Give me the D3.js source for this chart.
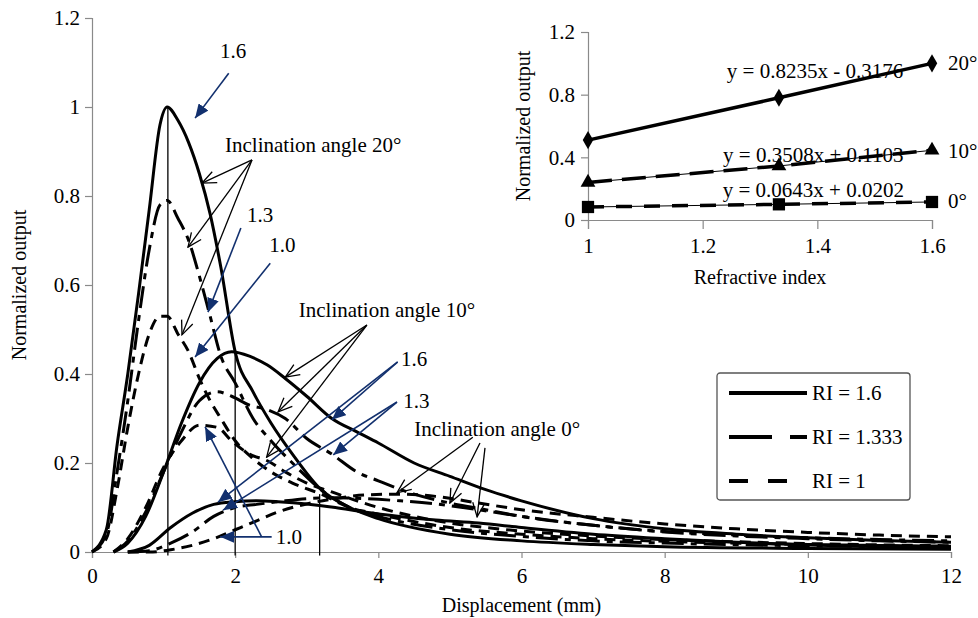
<!DOCTYPE html>
<html>
<head>
<meta charset="utf-8">
<script src="https://cdn.jsdelivr.net/npm/d3@7"></script>
<style>
  body { margin: 0; background: #fff; }
  text { font-family: "Liberation Serif", "Times New Roman", serif; fill: #000; }
</style>
</head>
<body>
<div id="chart"></div>
<script>
// ---------------------------------------------------------
// DATA
// ---------------------------------------------------------

// displacement (mm) sample points for each inclination angle
var x20 = [0, 0.2, 0.35, 0.5, 0.65, 0.8, 0.95, 1.05, 1.2, 1.35, 1.5, 1.65, 1.8, 2.0, 2.25, 2.5, 2.8, 3.2, 3.6, 4, 5, 6, 7, 8, 10, 12];
var x10 = [0.3, 0.5, 0.75, 1.0, 1.25, 1.5, 1.75, 1.95, 2.2, 2.45, 2.7, 3.0, 3.35, 3.7, 4.0, 4.5, 5.0, 5.5, 6.0, 7.0, 8.0, 9.0, 10, 11, 12];
var x0 = [0.5, 0.8, 1.1, 1.4, 1.7, 2.0, 2.3, 2.6, 3.0, 3.4, 3.8, 4.3, 4.8, 5.4, 6, 7, 8, 9, 10, 11, 12];

// inclination angle 20 deg
var a20ri16 = [0, 0.05, 0.24, 0.4, 0.58, 0.77, 0.96, 1.0, 0.97, 0.92, 0.85, 0.76, 0.64, 0.45, 0.36, 0.29, 0.22, 0.14, 0.1, 0.075, 0.04, 0.025, 0.017, 0.012, 0.008, 0.006];
var a20ri1333 = [0, 0.04, 0.18, 0.34, 0.52, 0.68, 0.78, 0.79, 0.75, 0.7, 0.62, 0.53, 0.44, 0.38, 0.3, 0.25, 0.2, 0.14, 0.1, 0.08, 0.05, 0.035, 0.025, 0.02, 0.014, 0.011];
var a20ri1 = [0, 0.03, 0.14, 0.28, 0.4, 0.49, 0.53, 0.53, 0.49, 0.45, 0.39, 0.34, 0.3, 0.25, 0.21, 0.18, 0.155, 0.13, 0.1, 0.085, 0.055, 0.04, 0.03, 0.024, 0.017, 0.013];

// inclination angle 10 deg
var a10ri16 = [0, 0.02, 0.08, 0.18, 0.29, 0.38, 0.435, 0.45, 0.44, 0.42, 0.39, 0.35, 0.3, 0.27, 0.245, 0.2, 0.17, 0.14, 0.115, 0.075, 0.052, 0.04, 0.032, 0.026, 0.022];
var a10ri1333 = [0, 0.025, 0.09, 0.18, 0.27, 0.34, 0.36, 0.35, 0.33, 0.32, 0.3, 0.255, 0.22, 0.18, 0.16, 0.13, 0.11, 0.095, 0.08, 0.06, 0.045, 0.036, 0.03, 0.025, 0.022];
var a10ri1 = [0, 0.03, 0.1, 0.19, 0.25, 0.285, 0.28, 0.25, 0.22, 0.205, 0.18, 0.155, 0.135, 0.115, 0.1, 0.08, 0.065, 0.055, 0.047, 0.036, 0.028, 0.023, 0.019, 0.016, 0.014];

// inclination angle 0 deg
var a0ri16 = [0, 0.015, 0.055, 0.087, 0.107, 0.113, 0.115, 0.113, 0.108, 0.1, 0.09, 0.08, 0.072, 0.065, 0.055, 0.04, 0.03, 0.022, 0.016, 0.012, 0.01];
var a0ri1333 = [0, 0.003, 0.02, 0.045, 0.08, 0.1, 0.107, 0.113, 0.12, 0.122, 0.12, 0.115, 0.108, 0.095, 0.08, 0.06, 0.046, 0.038, 0.032, 0.028, 0.025];
var a0ri1 = [0, 0, 0.005, 0.015, 0.03, 0.05, 0.07, 0.09, 0.108, 0.12, 0.128, 0.13, 0.125, 0.11, 0.095, 0.078, 0.063, 0.052, 0.044, 0.038, 0.034];

// peak markers (vertical lines): [x, top]
var peakLines = [[1.06, 1.0], [2.0, 0.45], [3.18, 0.13]];

// inset: normalized peak output vs refractive index
var insetRI = [1, 1.333, 1.6];
var inset20 = [0.51, 0.78, 1.0];
var inset10 = [0.24, 0.345, 0.445];
var inset0 = [0.083, 0.1, 0.115];
var insetEquations = ["y = 0.8235x - 0.3176", "y = 0.3508x + 0.1103", "y = 0.0643x + 0.0202"];

// ticks
var xTicks = [0, 2, 4, 6, 8, 10, 12];
var yTicks = [0, 0.2, 0.4, 0.6, 0.8, 1, 1.2];
var yTickLabels = ["0", "0.2", "0.4", "0.6", "0.8", "1", "1.2"];
var insetXTicks = [1, 1.2, 1.4, 1.6];
var insetXLabels = ["1", "1.2", "1.4", "1.6"];
var insetYTicks = [0, 0.4, 0.8, 1.2];
var insetYLabels = ["0", "0.4", "0.8", "1.2"];

var legendLabels = ["RI = 1.6", "RI = 1.333", "RI = 1"];

// ---------------------------------------------------------
// SET UP
// ---------------------------------------------------------
var svgWidth = 978;
var svgHeight = 618;
var axisColor = "#8a8a8a";
var blue = "#12306e";
var fontSize = 21;

var svg = d3.select("#chart")
  .append("svg")
  .attr("width", svgWidth)
  .attr("height", svgHeight);

var defs = svg.append("defs");
defs.append("marker")
  .attr("id", "blueHead")
  .attr("viewBox", "0 -6 14 12")
  .attr("refX", 14).attr("refY", 0)
  .attr("markerWidth", 14).attr("markerHeight", 12)
  .attr("markerUnits", "userSpaceOnUse")
  .attr("orient", "auto")
  .append("path")
  .attr("d", "M0,-6L14,0L0,6Z")
  .attr("fill", blue);
defs.append("marker")
  .attr("id", "blackHead")
  .attr("viewBox", "-1 -7 16 14")
  .attr("refX", 14).attr("refY", 0)
  .attr("markerWidth", 16).attr("markerHeight", 14)
  .attr("markerUnits", "userSpaceOnUse")
  .attr("orient", "auto")
  .append("path")
  .attr("d", "M0,-6L14,0L0,6")
  .attr("fill", "none")
  .attr("stroke", "#000")
  .attr("stroke-width", 1.3);

// main scales
var x = d3.scaleLinear().domain([0, 12]).range([92, 951]);
var y = d3.scaleLinear().domain([0, 1.2]).range([552, 18]);

// line styles for refractive index
var styles = {
  ri16: { dash: null, width: 3 },
  ri1333: { dash: "22,7,6,7", width: 3 },
  ri1: { dash: "11,7", width: 3 }
};

// ---------------------------------------------------------
// AXES
// ---------------------------------------------------------
var yAxis = svg.append("g")
  .attr("transform", `translate(${x(0)},0)`)
  .call(d3.axisLeft(y).tickValues(yTicks).tickSize(7).tickPadding(5)
    .tickFormat((d, i) => yTickLabels[i]));

var xAxis = svg.append("g")
  .attr("transform", `translate(0,${y(0)})`)
  .call(d3.axisBottom(x).tickValues(xTicks).tickSize(6).tickPadding(10)
    .tickFormat(d3.format("d")));

[xAxis, yAxis].forEach(function(g) {
  g.select(".domain").attr("stroke", axisColor).attr("stroke-width", 1.2);
  g.selectAll(".tick line").attr("stroke", axisColor).attr("stroke-width", 1.2);
  g.selectAll(".tick text")
    .style("font-family", "Liberation Serif, Times New Roman, serif")
    .style("font-size", fontSize + "px")
    .attr("fill", "#000");
});

svg.append("text")
  .attr("x", (x(0) + x(12)) / 2)
  .attr("y", 612)
  .attr("text-anchor", "middle")
  .style("font-size", "20px")
  .text("Displacement (mm)");

svg.append("text")
  .attr("transform", `translate(26,${y(0.6)}) rotate(-90)`)
  .attr("text-anchor", "middle")
  .style("font-size", "20px")
  .text("Normalized output");

// ---------------------------------------------------------
// CURVES
// ---------------------------------------------------------
var curves = [
  { xs: x20, ys: a20ri16, style: styles.ri16 },
  { xs: x20, ys: a20ri1333, style: styles.ri1333 },
  { xs: x20, ys: a20ri1, style: styles.ri1 },
  { xs: x10, ys: a10ri16, style: styles.ri16 },
  { xs: x10, ys: a10ri1333, style: styles.ri1333 },
  { xs: x10, ys: a10ri1, style: styles.ri1 },
  { xs: x0, ys: a0ri16, style: styles.ri16 },
  { xs: x0, ys: a0ri1333, style: styles.ri1333 },
  { xs: x0, ys: a0ri1, style: styles.ri1 }
];

var line = d3.line()
  .x(d => x(d[0]))
  .y(d => y(d[1]))
  .curve(d3.curveMonotoneX);

svg.append("g").selectAll("path")
  .data(curves)
  .enter()
  .append("path")
  .attr("d", c => line(c.xs.map((v, i) => [v, c.ys[i]])))
  .attr("fill", "none")
  .attr("stroke", "#000")
  .attr("stroke-width", c => c.style.width)
  .attr("stroke-dasharray", c => c.style.dash)
  .attr("stroke-linejoin", "round");

// vertical peak lines
svg.append("g").selectAll("line")
  .data(peakLines)
  .enter()
  .append("line")
  .attr("x1", d => x(d[0])).attr("x2", d => x(d[0]))
  .attr("y1", d => y(d[1])).attr("y2", y(-0.008))
  .attr("stroke", "#000")
  .attr("stroke-width", 1.3);

// ---------------------------------------------------------
// ANNOTATIONS (positions in data units)
// ---------------------------------------------------------
var labels = [
  { text: "1.6", at: [1.97, 1.11], anchor: "middle" },
  { text: "Inclination angle 20°", at: [3.09, 0.9], anchor: "middle" },
  { text: "1.3", at: [2.35, 0.742], anchor: "middle" },
  { text: "1.0", at: [2.66, 0.674], anchor: "middle" },
  { text: "Inclination angle 10°", at: [4.12, 0.528], anchor: "middle" },
  { text: "1.6", at: [4.5, 0.418], anchor: "middle" },
  { text: "1.3", at: [4.53, 0.324], anchor: "middle" },
  { text: "Inclination angle 0°", at: [5.66, 0.261], anchor: "middle" },
  { text: "1.0", at: [2.75, 0.018], anchor: "middle" }
];

var blueArrows = [
  [[1.91, 1.076], [1.44, 0.975]],
  [[2.08, 0.728], [1.62, 0.539]],
  [[2.49, 0.649], [1.44, 0.438]],
  [[4.27, 0.427], [3.35, 0.297]],
  [[4.27, 0.427], [1.76, 0.112]],
  [[4.26, 0.337], [3.37, 0.218]],
  [[4.26, 0.337], [1.83, 0.094]],
  [[2.51, 0.034], [1.79, 0.034]],
  [[2.37, 0.034], [1.58, 0.281]]
];

var blackArrows = [
  [[2.235, 0.881], [1.537, 0.829]],
  [[2.235, 0.881], [1.341, 0.685]],
  [[2.235, 0.881], [1.257, 0.488]],
  [[3.84, 0.51], [2.7, 0.393]],
  [[3.84, 0.51], [2.6, 0.315]],
  [[3.84, 0.51], [2.44, 0.213]],
  [[5.32, 0.258], [4.26, 0.133]],
  [[5.42, 0.245], [5.0, 0.11]],
  [[5.49, 0.234], [5.38, 0.079]]
];

svg.append("g").selectAll("line")
  .data(blackArrows)
  .enter()
  .append("line")
  .attr("x1", d => x(d[0][0])).attr("y1", d => y(d[0][1]))
  .attr("x2", d => x(d[1][0])).attr("y2", d => y(d[1][1]))
  .attr("stroke", "#000")
  .attr("stroke-width", 1.3)
  .attr("marker-end", "url(#blackHead)");

svg.append("g").selectAll("line")
  .data(blueArrows)
  .enter()
  .append("line")
  .attr("x1", d => x(d[0][0])).attr("y1", d => y(d[0][1]))
  .attr("x2", d => x(d[1][0])).attr("y2", d => y(d[1][1]))
  .attr("stroke", blue)
  .attr("stroke-width", 1.6)
  .attr("marker-end", "url(#blueHead)");

svg.append("g").selectAll("text")
  .data(labels)
  .enter()
  .append("text")
  .attr("x", d => x(d.at[0]))
  .attr("y", d => y(d.at[1]))
  .attr("text-anchor", d => d.anchor)
  .style("font-size", fontSize + "px")
  .text(d => d.text);

// ---------------------------------------------------------
// LEGEND
// ---------------------------------------------------------
var legend = svg.append("g").attr("transform", "translate(717,373)");
legend.append("rect")
  .attr("width", 193).attr("height", 127)
  .attr("rx", 3)
  .attr("fill", "#fff")
  .attr("stroke", "#555")
  .attr("stroke-width", 1.3);

var legendStyles = [
  { dash: null, end: 90 },
  { dash: "43,18,14,0", end: 90 },
  { dash: "19,20", end: 71 }
];
legendLabels.forEach(function(lbl, i) {
  var ly = 20 + i * 44;
  legend.append("line")
    .attr("x1", 12).attr("x2", legendStyles[i].end)
    .attr("y1", ly).attr("y2", ly)
    .attr("stroke", "#000")
    .attr("stroke-width", 4)
    .attr("stroke-dasharray", legendStyles[i].dash);
  legend.append("text")
    .attr("x", 95)
    .attr("y", ly + 7)
    .style("font-size", fontSize + "px")
    .text(lbl);
});

// ---------------------------------------------------------
// INSET
// ---------------------------------------------------------
var ix = d3.scaleLinear().domain([1, 1.6]).range([588, 932]);
var iy = d3.scaleLinear().domain([0, 1.2]).range([220, 32]);

var iyAxis = svg.append("g")
  .attr("transform", `translate(${ix(1)},0)`)
  .call(d3.axisLeft(iy).tickValues(insetYTicks).tickSize(7).tickPadding(6)
    .tickFormat((d, i) => insetYLabels[i]));
var ixAxis = svg.append("g")
  .attr("transform", `translate(0,${iy(0)})`)
  .call(d3.axisBottom(ix).tickValues(insetXTicks).tickSize(9).tickPadding(9)
    .tickFormat((d, i) => insetXLabels[i]));

[ixAxis, iyAxis].forEach(function(g) {
  g.select(".domain").attr("stroke", axisColor).attr("stroke-width", 1.2);
  g.selectAll(".tick line").attr("stroke", axisColor).attr("stroke-width", 1.2);
  g.selectAll(".tick text")
    .style("font-family", "Liberation Serif, Times New Roman, serif")
    .style("font-size", fontSize + "px")
    .attr("fill", "#000");
});

svg.append("text")
  .attr("x", (ix(1) + ix(1.6)) / 2)
  .attr("y", 284)
  .attr("text-anchor", "middle")
  .style("font-size", "20px")
  .text("Refractive index");

svg.append("text")
  .attr("transform", `translate(530,${iy(0.6)}) rotate(-90)`)
  .attr("text-anchor", "middle")
  .style("font-size", "20px")
  .text("Normalized output");

var insetSeries = [
  { ys: inset20, dash: null, symbol: d3.symbolDiamond, size: 95, label: "20°", labelY: 1.0 },
  { ys: inset10, dash: "24,10", symbol: d3.symbolTriangle, size: 95, label: "10°", labelY: 0.44 },
  { ys: inset0, dash: "16,12", symbol: d3.symbolSquare, size: 150, label: "0°", labelY: 0.12 }
];

var iline = d3.line().x(d => ix(d[0])).y(d => iy(d[1]));

insetSeries.forEach(function(s, k) {
  var pts = insetRI.map((r, i) => [r, s.ys[i]]);
  // thin trendline beneath
  svg.append("path")
    .attr("d", iline(pts))
    .attr("fill", "none")
    .attr("stroke", "#000")
    .attr("stroke-width", 1);
  svg.append("path")
    .attr("d", iline(pts))
    .attr("fill", "none")
    .attr("stroke", "#000")
    .attr("stroke-width", 3.5)
    .attr("stroke-dasharray", s.dash);
  svg.append("g").selectAll("path")
    .data(pts)
    .enter()
    .append("path")
    .attr("transform", d => `translate(${ix(d[0])},${iy(d[1])})`)
    .attr("d", d3.symbol().type(s.symbol).size(s.size))
    .attr("fill", "#000");
  svg.append("text")
    .attr("x", ix(1.6) + 16)
    .attr("y", iy(s.labelY) + 7)
    .style("font-size", fontSize + "px")
    .text(s.label);
});

// trendline equations
var eqPos = [[1.396, 0.906], [1.393, 0.37], [1.393, 0.147]];
insetEquations.forEach(function(eq, i) {
  svg.append("text")
    .attr("x", ix(eqPos[i][0]))
    .attr("y", iy(eqPos[i][1]))
    .attr("text-anchor", "middle")
    .style("font-size", fontSize + "px")
    .text(eq);
});
</script>
</body>
</html>
